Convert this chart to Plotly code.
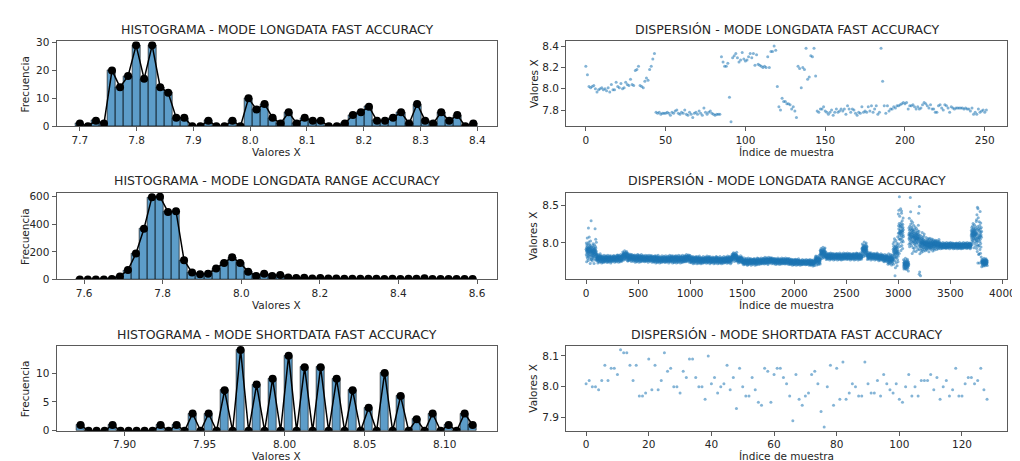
import numpy as np
import plotly.graph_objects as go

# ---------------- DATA ----------------
titles = [
    "HISTOGRAMA - MODE LONGDATA FAST ACCURACY", "DISPERSIÓN - MODE LONGDATA FAST ACCURACY",
    "HISTOGRAMA - MODE LONGDATA RANGE ACCURACY", "DISPERSIÓN - MODE LONGDATA RANGE ACCURACY",
    "HISTOGRAMA - MODE SHORTDATA FAST ACCURACY", "DISPERSIÓN - MODE SHORTDATA FAST ACCURACY",
]

# Histogram 1 (LONGDATA FAST): 50 bins between these edges
hist1_range = [7.693, 8.400]
hist1_counts = [1, 0, 2, 1, 20, 14, 18, 29, 17, 29, 14, 12, 3, 3, 0, 0, 2, 0, 0, 2,
                0, 10, 6, 8, 3, 1, 5, 1, 3, 2, 2, 0, 0, 1, 4, 5, 7, 2, 2, 3,
                5, 1, 8, 2, 1, 5, 2, 4, 0, 1]

# Histogram 2 (LONGDATA RANGE): 50 bins
hist2_range = [7.579, 8.599]
hist2_counts = [0, 0, 0, 0, 3, 22, 68, 188, 368, 597, 600, 490, 495, 140, 50, 38, 42, 80, 120, 162,
                120, 57, 26, 41, 26, 33, 14, 10, 12, 8, 10, 7, 8, 6, 6, 5, 6, 5, 4, 5,
                4, 5, 5, 9, 4, 4, 3, 4, 3, 4]

# Scatter 1 (LONGDATA FAST) values by sample index
scatter1_values = [
    8.21, 8.13, 8.02, 8.01, 8.02, 8.03, 8.00, 7.97, 7.99, 8.00, 8.01, 7.99, 8.00, 7.98, 8.01, 7.97,
    8.04, 7.99, 7.99, 8.06, 8.02, 8.01, 8.05, 8.00, 8.01, 8.06, 8.04, 8.03, 8.09, 8.04, 8.03, 8.17,
    8.18, 8.21, 8.03, 8.02, 8.01, 8.07, 8.10, 8.08, 8.18, 8.21, 8.28, 8.33,
    7.78, 7.77, 7.78, 7.76, 7.77, 7.77, 7.77, 7.78, 7.77, 7.75, 7.78, 7.77, 7.79, 7.80, 7.77, 7.76,
    7.78, 7.77, 7.80, 7.76, 7.75, 7.78, 7.76, 7.73, 7.77, 7.78, 7.76, 7.79, 7.77, 7.75, 7.82, 7.78,
    7.76, 7.78, 7.79, 7.77, 7.76, 7.75, 7.76, 7.76, 7.76,
    8.30, 8.25, 8.21, 8.21, 8.24, 7.92, 7.69, 8.29, 8.31, 8.33, 8.29, 8.25, 8.27, 8.34, 8.28, 8.26,
    8.27, 8.30, 8.33, 8.29, 8.33, 8.22, 8.32, 8.23, 8.22, 8.21, 8.20, 8.21, 8.20, 8.30, 8.20, 8.35,
    8.35, 8.40, 8.36, 8.02, 7.83, 7.80, 7.91, 7.88, 7.88, 7.86, 7.86, 7.85, 7.81, 7.83, 7.79, 7.73,
    8.21, 8.19, 8.01, 8.20, 8.18, 8.38, 8.09, 8.11, 8.31, 8.30, 8.38, 8.12,
    7.79, 7.78, 7.81, 7.81, 7.83, 7.79, 7.78, 7.76, 7.78, 7.80, 7.75, 7.78, 7.81, 7.78, 7.79, 7.81,
    7.79, 7.81, 7.76, 7.84, 7.81, 7.78, 7.81, 7.80, 7.77, 7.75, 7.78, 7.77, 7.83, 7.78, 7.79, 7.78,
    7.83, 7.79, 7.84, 7.78, 7.81, 7.84, 7.76, 7.78, 8.38, 8.07, 7.84, 7.77, 7.84, 7.79, 7.81, 7.81,
    7.83, 7.82, 7.84, 7.84, 7.85, 7.86, 7.87, 7.86, 7.87, 7.81, 7.84, 7.84, 7.85, 7.83, 7.81, 7.83,
    7.81, 7.82, 7.85, 7.87, 7.86, 7.84, 7.82, 7.85, 7.81, 7.81, 7.78, 7.78, 7.84, 7.85, 7.82, 7.80,
    7.85, 7.84, 7.82, 7.78, 7.83, 7.82, 7.81, 7.82, 7.82, 7.82, 7.82, 7.82, 7.81, 7.82, 7.81, 7.81,
    7.79, 7.82, 7.76, 7.78, 7.76, 7.81, 7.78, 7.79, 7.80, 7.78, 7.80,
]

# Scatter 2 (LONGDATA RANGE, ~3855 samples): band limits read per block of 50 samples
scatter2_count = 3855
scatter2_block_size = 50
scatter2_block_low = [
    7.72, 7.72, 7.73, 7.73, 7.73, 7.74, 7.74, 7.76, 7.75, 7.74, 7.74, 7.74, 7.74, 7.73, 7.73, 7.73,
    7.73, 7.73, 7.73, 7.74, 7.72, 7.72, 7.72, 7.72, 7.72, 7.72, 7.72, 7.72, 7.75, 7.73, 7.70, 7.70,
    7.70, 7.71, 7.71, 7.72, 7.71, 7.71, 7.71, 7.70, 7.70, 7.70, 7.70, 7.69, 7.70, 7.78, 7.77, 7.77,
    7.77, 7.77, 7.77, 7.77, 7.77, 7.80, 7.77, 7.77, 7.76, 7.74, 7.70, 7.66, 7.85, 7.62, 7.85, 7.88,
    7.85, 7.88, 7.89, 7.91, 7.92, 7.92, 7.92, 7.92, 7.92, 7.92, 7.93, 7.72, 7.68, 7.69,
]
scatter2_block_high = [
    8.08, 8.02, 7.86, 7.84, 7.84, 7.84, 7.85, 7.90, 7.86, 7.85, 7.85, 7.84, 7.84, 7.84, 7.83, 7.83,
    7.84, 7.84, 7.84, 7.85, 7.83, 7.83, 7.82, 7.83, 7.82, 7.82, 7.82, 7.83, 7.88, 7.83, 7.80, 7.80,
    7.80, 7.80, 7.81, 7.81, 7.80, 7.80, 7.80, 7.79, 7.79, 7.78, 7.78, 7.78, 7.84, 7.95, 7.87, 7.87,
    7.87, 7.87, 7.87, 7.87, 7.87, 8.02, 7.88, 7.87, 7.86, 7.85, 7.86, 8.10, 8.45, 7.80, 8.35, 8.25,
    8.15, 8.08, 8.07, 8.05, 8.01, 8.01, 8.01, 8.01, 8.01, 8.01, 8.30, 8.45, 7.80, 7.79,
]
# position of each sample inside its block's band (-1 = band low, +1 = band high)
scatter2_band_position = [
    0.08, -0.32, 0.55, -0.05, 0.22, -0.84, 0.03, 0.41, -0.18, -0.47, 0.12, 0.93, -0.10, 0.29, -0.61,
    0.01, -0.25, 0.50, 0.16, -0.38, 0.06, -0.75, 0.34, -0.02, 0.20, -0.13, 0.62, -0.44, 0.09, -0.21,
    0.80, -0.07, 0.27, -0.55, 0.14, 0.45, -0.30, -0.04, 0.37, -0.97, 0.18, -0.16, 0.05, 0.70, -0.35,
    0.24, -0.09, -0.66, 0.31, -0.01,
]
# isolated points read individually
scatter2_outlier_index = [22, 30, 48, 86, 92, 2968, 3005, 3010, 3022, 3030, 3062, 3115, 3118,
                          3195, 3200, 3202, 3205, 3213, 3755, 3760, 3765, 3775, 3780]
scatter2_outlier_value = [8.20, 8.08, 8.30, 8.19, 8.05, 7.56, 8.44, 8.62, 8.46, 8.40, 7.66, 8.61, 8.42,
                          8.40, 7.58, 8.49, 7.61, 7.56, 8.38, 8.48, 8.46, 7.85, 7.73]

# Scatter 3 (SHORTDATA FAST) values by sample index
scatter3_values = [
    8.01, 8.02, 8.00, 8.00, 7.99, 8.02, 8.07, 8.02, 8.06, 8.06, 8.04, 8.12, 8.11, 8.11, 8.07, 8.02,
    8.07, 7.97, 7.97, 7.98, 8.09, 7.99, 8.07, 7.99, 8.02, 8.11, 8.05, 8.06, 8.00, 8.00, 7.98, 8.05,
    8.03, 8.09, 8.09, 8.03, 8.00, 8.00, 7.96, 8.10, 8.01, 8.03, 7.98, 8.00, 8.01, 8.07, 7.99, 8.03,
    7.93, 8.06, 8.00, 7.97, 7.97, 8.03, 7.99, 7.95, 7.94, 8.06, 8.05, 7.95, 8.04, 8.06, 8.06, 8.03,
    8.01, 7.97, 7.89, 8.04, 7.96, 7.94, 7.97, 7.98, 8.04, 8.05, 8.01, 7.92, 7.87, 8.00, 8.07, 7.94,
    8.06, 7.96, 8.08, 7.96, 7.98, 8.01, 8.00, 7.97, 7.97, 8.08, 8.01, 7.98, 7.98, 8.02, 7.97, 8.04,
    8.01, 7.99, 7.98, 8.01, 7.96, 7.95, 8.00, 8.04, 7.97, 8.00, 7.97, 8.02, 8.02, 8.02, 8.04, 7.99,
    8.03, 7.96, 8.00, 8.02, 7.97, 7.99, 8.06, 7.97, 7.97, 8.01, 8.03, 8.03, 8.01, 8.02, 8.06, 7.99,
    7.96,
]

# axis ticks
hist1_xticks = [7.7, 7.8, 7.9, 8.0, 8.1, 8.2, 8.3, 8.4]
hist1_yticks = [0, 10, 20, 30]
hist2_xticks = [7.6, 7.8, 8.0, 8.2, 8.4, 8.6]
hist2_yticks = [0, 200, 400, 600]
hist3_xticks = [7.90, 7.95, 8.00, 8.05, 8.10]
hist3_yticks = [0, 5, 10]
sc1_xticks = [0, 50, 100, 150, 200, 250]
sc1_yticks = [7.8, 8.0, 8.2, 8.4]
sc2_xticks = [0, 500, 1000, 1500, 2000, 2500, 3000, 3500, 4000]
sc2_yticks = [8.0, 8.5]
sc3_xticks = [0, 20, 40, 60, 80, 100, 120]
sc3_yticks = [7.9, 8.0, 8.1]

# ---------------- BUILD SERIES ----------------
NBINS = 50


def bins_from(rng):
    edges = np.linspace(rng[0], rng[1], NBINS + 1)
    return (edges[:-1] + edges[1:]) / 2, edges[1] - edges[0]


# scatter 2 samples
s2 = []
for i in range(scatter2_count):
    k = i // scatter2_block_size
    j = i % scatter2_block_size
    lo, hi = scatter2_block_low[k], scatter2_block_high[k]
    p = scatter2_band_position[(j + 13 * k) % len(scatter2_band_position)]
    s2.append((lo + hi) / 2 + (hi - lo) / 2 * p)
for idx, val in zip(scatter2_outlier_index, scatter2_outlier_value):
    s2[idx] = val
scatter2_values = s2

# histogram 3 counts computed from scatter 3 samples
s3 = np.array(scatter3_values)
h3_lo, h3_hi = s3.min(), s3.max()
h3_w = (h3_hi - h3_lo) / NBINS
h3_idx = np.clip(np.floor((s3 - h3_lo) / h3_w + 1e-6).astype(int), 0, NBINS - 1)
hist3_counts = np.bincount(h3_idx, minlength=NBINS).tolist()
hist3_range = [h3_lo, h3_hi]

# ---------------- FIGURE ----------------
W, H = 1020, 461
BAR_COLOR = "rgba(31,119,180,0.72)"
DOT_COLOR = "rgba(31,119,180,0.55)"
TXT = "#262626"
FONT = "DejaVu Sans"

fig = go.Figure()

hists = [(hist1_range, hist1_counts, "x", "y"),
         (hist2_range, hist2_counts, "x3", "y3"),
         (hist3_range, hist3_counts, "x5", "y5")]
for rng, counts, xa, ya in hists:
    centers, w = bins_from(rng)
    fig.add_trace(go.Bar(x=centers, y=counts, width=w, xaxis=xa, yaxis=ya,
                         marker=dict(color=BAR_COLOR, line=dict(color="rgba(0,0,0,0.75)", width=0.8)),
                         showlegend=False, hoverinfo="x+y"))
    fig.add_trace(go.Scatter(x=centers, y=counts, mode="lines+markers", xaxis=xa, yaxis=ya,
                             line=dict(color="black", width=1.5),
                             marker=dict(color="black", size=8), showlegend=False, cliponaxis=True))

scatters = [(scatter1_values, "x2", "y2"), (scatter2_values, "x4", "y4"), (scatter3_values, "x6", "y6")]
for vals, xa, ya in scatters:
    fig.add_trace(go.Scatter(x=list(range(len(vals))), y=vals, mode="markers", xaxis=xa, yaxis=ya,
                             marker=dict(color=DOT_COLOR, size=3, line=dict(width=0)),
                             showlegend=False))

# layout geometry (pixels of the reference)
left_px = (49, 493)
right_px = (563, 1008)
rows_px = [(29, 116), (184, 273), (341, 428)]


def dx(p):
    return (p[0] / W, p[1] / W)


def dy(p):
    return (1 - p[1] / H, 1 - p[0] / H)


def axis_common(rng, ticks, fmt=None, domain=None, anchor=None):
    d = dict(range=rng, tickvals=ticks, domain=domain, anchor=anchor,
             showgrid=False, zeroline=False, showline=True, mirror=True,
             linecolor="#5a5a5a", linewidth=1, ticks="outside", ticklen=4,
             tickcolor="#5a5a5a", tickwidth=1,
             tickfont=dict(family=FONT, size=10.5, color=TXT))
    if fmt:
        d["tickformat"] = fmt
    return d


layout_axes = {}
specs = [
    ("", left_px, rows_px[0], [7.659, 8.434], hist1_xticks, ".1f", [0, 30.45], hist1_yticks, None),
    ("2", right_px, rows_px[0], [-12.4, 264], sc1_xticks, None, [7.648, 8.445], sc1_yticks, ".1f"),
    ("3", left_px, rows_px[1], [7.530, 8.650], hist2_xticks, ".1f", [0, 630], hist2_yticks, None),
    ("4", right_px, rows_px[1], [-193, 4045], sc2_xticks, None, [7.509, 8.677], sc2_yticks, ".1f"),
    ("5", left_px, rows_px[2], [7.8575, 8.1325], hist3_xticks, ".2f", [0, 14.7], hist3_yticks, None),
    ("6", right_px, rows_px[2], [-6.4, 134.4], sc3_xticks, None, [7.8575, 8.1325], sc3_yticks, ".1f"),
]
for n, xp, yp, xr, xt, xf, yr, yt, yf in specs:
    layout_axes["xaxis" + n] = axis_common(xr, xt, xf, dx(xp), "y" + n)
    layout_axes["yaxis" + n] = axis_common(yr, yt, yf, dy(yp), "x" + n)

annotations = []
for i, t in enumerate(titles):
    xp = left_px if i % 2 == 0 else right_px
    yp = rows_px[i // 2]
    annotations.append(dict(text=t, x=(xp[0] + xp[1]) / 2 / W, y=1 - (yp[0] - 12) / H,
                            xref="paper", yref="paper", showarrow=False, xanchor="center",
                            yanchor="middle", font=dict(family=FONT, size=12.5, color=TXT)))
    xlabel = "Valores X" if i % 2 == 0 else "Índice de muestra"
    ylabel = "Frecuencia" if i % 2 == 0 else "Valores X"
    annotations.append(dict(text=xlabel, x=(xp[0] + xp[1]) / 2 / W, y=1 - (yp[1] + 26) / H,
                            xref="paper", yref="paper", showarrow=False, xanchor="center",
                            yanchor="middle", font=dict(family=FONT, size=10.5, color=TXT)))
    annotations.append(dict(text=ylabel, x=(17 if i % 2 == 0 else 530) / W, y=1 - (yp[0] + yp[1]) / 2 / H,
                            xref="paper", yref="paper", showarrow=False, xanchor="center",
                            yanchor="middle", textangle=-90,
                            font=dict(family=FONT, size=10.5, color=TXT)))

fig.update_layout(width=W, height=H, margin=dict(l=0, r=0, t=0, b=0),
                  paper_bgcolor="white", plot_bgcolor="white", bargap=0,
                  annotations=annotations, **layout_axes)

fig.write_html("out.html")
